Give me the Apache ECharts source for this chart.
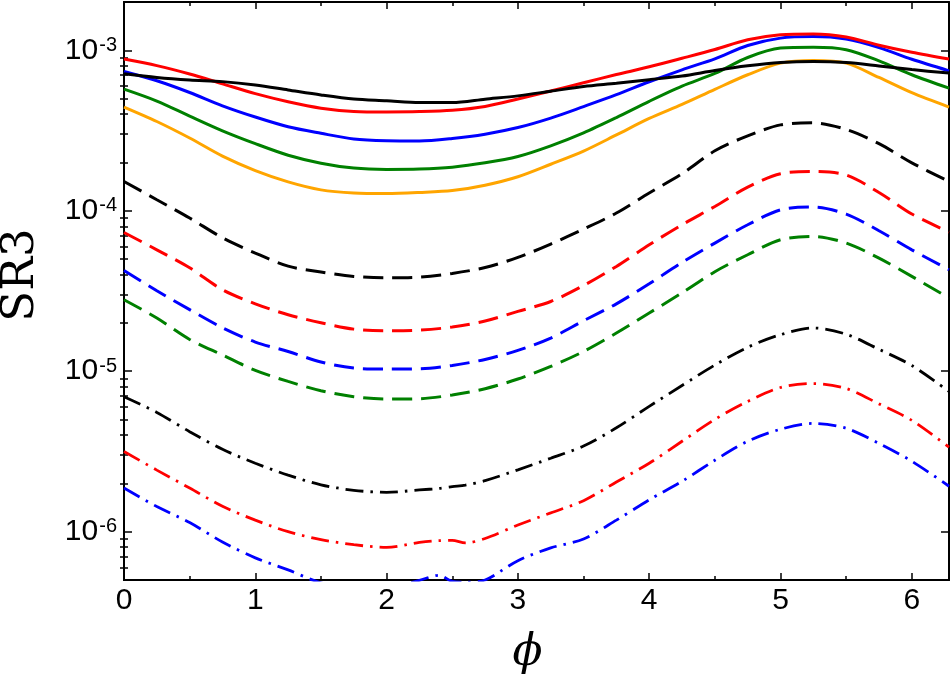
<!DOCTYPE html>
<html>
<head>
<meta charset="utf-8">
<script src="https://cdn.jsdelivr.net/npm/echarts@6/dist/echarts.min.js"></script>
<style>
  html, body { margin: 0; padding: 0; background: #fff; }
  #chart { width: 952px; height: 683px; }
</style>
</head>
<body>
<div id="chart"></div>
<script>
// phi samples for the solid and dashed curves
const phi = [0, 0.25, 0.5, 0.75, 1, 1.25, 1.5, 1.75, 2, 2.25, 2.5, 2.75, 3, 3.25, 3.5, 3.75,
  4, 4.25, 4.5, 4.75, 5, 5.25, 5.5, 5.75, 6, 6.2832];
// the dash-dot curves are noisier, so they get a few extra samples
const phiDashDot = [0, 0.25, 0.5, 0.75, 1, 1.25, 1.5, 1.75, 2, 2.25, 2.4, 2.5, 2.6, 2.75,
  3, 3.25, 3.5, 3.75, 4, 4.25, 4.5, 4.75, 5, 5.25, 5.5, 5.75, 6, 6.2832];

const solidBlack = [7.14e-4, 6.77e-4, 6.53e-4, 6.38e-4, 6.08e-4, 5.66e-4, 5.27e-4, 4.97e-4, 4.85e-4, 4.72e-4, 4.72e-4, 4.96e-4, 5.20e-4,
  5.56e-4, 5.95e-4, 6.23e-4, 6.56e-4, 6.91e-4, 7.48e-4, 8.00e-4, 8.39e-4, 8.52e-4, 8.39e-4, 7.99e-4, 7.58e-4, 7.21e-4];
const solidRed = [8.82e-4, 8.03e-4, 7.12e-4, 6.18e-4, 5.37e-4, 4.78e-4, 4.36e-4, 4.16e-4, 4.13e-4, 4.15e-4, 4.23e-4, 4.47e-4, 4.97e-4,
  5.58e-4, 6.28e-4, 7.06e-4, 7.89e-4, 8.92e-4, 1.012e-3, 1.163e-3, 1.249e-3, 1.265e-3, 1.212e-3, 1.076e-3, 9.72e-4, 8.82e-4];
const solidBlue = [7.38e-4, 6.46e-4, 5.46e-4, 4.51e-4, 3.84e-4, 3.34e-4, 3.04e-4, 2.80e-4, 2.73e-4, 2.72e-4, 2.82e-4, 3.00e-4, 3.30e-4,
  3.78e-4, 4.46e-4, 5.29e-4, 6.37e-4, 7.56e-4, 8.85e-4, 1.071e-3, 1.191e-3, 1.217e-3, 1.174e-3, 1.039e-3, 8.79e-4, 7.45e-4];
const solidGreen = [5.73e-4, 4.83e-4, 3.89e-4, 3.15e-4, 2.62e-4, 2.22e-4, 1.98e-4, 1.845e-4, 1.81e-4, 1.82e-4, 1.87e-4, 1.99e-4, 2.18e-4,
  2.54e-4, 3.06e-4, 3.81e-4, 4.81e-4, 5.98e-4, 7.17e-4, 9.02e-4, 1.032e-3, 1.045e-3, 1.009e-3, 8.60e-4, 7.04e-4, 5.81e-4];
const solidOrange = [4.43e-4, 3.60e-4, 2.84e-4, 2.19e-4, 1.78e-4, 1.514e-4, 1.35e-4, 1.29e-4, 1.28e-4, 1.30e-4, 1.336e-4, 1.444e-4, 1.63e-4,
  1.95e-4, 2.355e-4, 2.97e-4, 3.76e-4, 4.60e-4, 5.71e-4, 7.04e-4, 8.32e-4, 8.63e-4, 8.32e-4, 6.77e-4, 5.44e-4, 4.43e-4];

const dashedBlack = [1.523e-4, 1.171e-4, 9.01e-5, 6.79e-5, 5.45e-5, 4.52e-5, 4.15e-5, 3.90e-5, 3.82e-5, 3.86e-5, 4.07e-5, 4.43e-5, 5.12e-5,
  6.20e-5, 7.69e-5, 9.68e-5, 1.29e-4, 1.70e-4, 2.365e-4, 2.93e-4, 3.43e-4, 3.53e-4, 3.21e-4, 2.62e-4, 1.99e-4, 1.523e-4];
const dashedRed = [7.32e-5, 5.71e-5, 4.41e-5, 3.22e-5, 2.63e-5, 2.25e-5, 2.005e-5, 1.83e-5, 1.79e-5, 1.805e-5, 1.885e-5, 2.055e-5, 2.36e-5,
  2.72e-5, 3.42e-5, 4.50e-5, 6.14e-5, 8.18e-5, 1.064e-4, 1.405e-4, 1.70e-4, 1.757e-4, 1.669e-4, 1.30e-4, 9.54e-5, 7.37e-5];
const dashedBlue = [4.25e-5, 3.17e-5, 2.42e-5, 1.866e-5, 1.52e-5, 1.328e-5, 1.141e-5, 1.047e-5, 1.032e-5, 1.036e-5, 1.087e-5, 1.184e-5, 1.348e-5,
  1.61e-5, 2.063e-5, 2.63e-5, 3.51e-5, 4.76e-5, 6.29e-5, 8.18e-5, 1.014e-4, 1.055e-4, 9.54e-5, 7.51e-5, 5.71e-5, 4.29e-5];
const dashedGreen = [2.79e-5, 2.145e-5, 1.578e-5, 1.262e-5, 1.012e-5, 8.64e-6, 7.56e-6, 6.94e-6, 6.71e-6, 6.74e-6, 7.11e-6, 7.78e-6, 8.94e-6,
  1.071e-5, 1.328e-5, 1.73e-5, 2.305e-5, 3.08e-5, 4.17e-5, 5.32e-5, 6.60e-5, 6.92e-5, 6.29e-5, 5.07e-5, 3.90e-5, 2.86e-5];

const dashDotBlack = [6.93e-6, 5.54e-6, 4.20e-6, 3.26e-6, 2.67e-6, 2.25e-6, 1.96e-6, 1.81e-6, 1.76e-6, 1.82e-6, 1.86e-6, 1.91e-6, 1.95e-6, 2.08e-6,
  2.43e-6, 2.87e-6, 3.42e-6, 4.44e-6, 6.04e-6, 8.15e-6, 1.093e-5, 1.41e-5, 1.69e-5, 1.86e-5, 1.70e-5, 1.37e-5, 1.085e-5, 7.48e-6];
const dashDotRed = [3.16e-6, 2.42e-6, 1.87e-6, 1.44e-6, 1.18e-6, 1.00e-6, 8.92e-7, 8.30e-7, 7.98e-7, 8.57e-7, 8.80e-7, 8.82e-7, 8.51e-7, 9.07e-7,
  1.10e-6, 1.31e-6, 1.56e-6, 2.04e-6, 2.67e-6, 3.66e-6, 5.01e-6, 6.48e-6, 7.92e-6, 8.38e-6, 7.81e-6, 6.26e-6, 4.94e-6, 3.36e-6];
const dashDotBlue = [1.87e-6, 1.434e-6, 1.14e-6, 8.63e-7, 6.87e-7, 5.78e-7, 4.80e-7, 4.47e-7, 4.47e-7, 4.98e-7, 5.35e-7, 4.90e-7, 4.85e-7, 5.0e-7,
  6.6e-7, 7.92e-7, 9.01e-7, 1.18e-6, 1.58e-6, 2.06e-6, 2.79e-6, 3.66e-6, 4.35e-6, 4.73e-6, 4.41e-6, 3.55e-6, 2.75e-6, 1.92e-6];

// tick positions
const xMajorTicks = [0, 1, 2, 3, 4, 5, 6];
const xMinorTicks = [0.5, 1.5, 2.5, 3.5, 4.5, 5.5];
const yMajorTicks = [1e-6, 1e-5, 1e-4, 1e-3];
const yMinorTicks = [6e-7, 7e-7, 8e-7, 9e-7,
  2e-6, 3e-6, 4e-6, 5e-6, 6e-6, 7e-6, 8e-6, 9e-6,
  2e-5, 3e-5, 4e-5, 5e-5, 6e-5, 7e-5, 8e-5, 9e-5,
  2e-4, 3e-4, 4e-4, 5e-4, 6e-4, 7e-4, 8e-4, 9e-4];

const X_MAX = 2 * Math.PI;
const Y_MIN = 5e-7;
const Y_MAX = 2e-3;

const dashed = [20, 9];
const dashDot = [18, 7, 2.5, 7];

const chart = echarts.init(document.getElementById('chart'));

const frame = { show: true, onZero: false, lineStyle: { color: '#000', width: 2 } };
const noLine = { show: false };

function xAxisOf(position, ticks, len, withLabels) {
  return {
    type: 'value', min: 0, max: X_MAX, position,
    axisLine: withLabels !== null ? frame : noLine,
    axisTick: { show: true, inside: true, length: len, customValues: ticks, lineStyle: { color: '#000', width: 1.5 } },
    axisLabel: withLabels ? {
      customValues: xMajorTicks, fontSize: 30, color: '#000', fontFamily: 'Liberation Sans', margin: 6,
      alignMinLabel: 'center', alignMaxLabel: 'center', hideOverlap: false
    } : { show: false },
    splitLine: { show: false },
  };
}

function yAxisOf(position, ticks, len, withLabels) {
  return {
    type: 'log', logBase: 10, min: Y_MIN, max: Y_MAX, position,
    axisLine: withLabels !== null ? frame : noLine,
    axisTick: { show: true, inside: true, length: len, customValues: ticks, lineStyle: { color: '#000', width: 1.5 } },
    axisLabel: withLabels ? {
      customValues: yMajorTicks, margin: 7,
      formatter: (v) => '{b|10}{s|' + Math.round(Math.log10(v)) + '}',
      rich: {
        b: { fontSize: 30, fontFamily: 'Liberation Sans', color: '#000', lineHeight: 30, verticalAlign: 'bottom', padding: [9, 0, 0, 0] },
        s: { fontSize: 20, fontFamily: 'Liberation Sans', color: '#000', lineHeight: 20, verticalAlign: 'top', padding: [0, 0, 0, 1] },
      },
    } : { show: false },
    splitLine: { show: false },
    minorTick: { show: false },
  };
}

const xBottom = xAxisOf('bottom', xMajorTicks, 7, true);
xBottom.name = 'ϕ';
xBottom.nameLocation = 'middle';
xBottom.nameGap = 52;
xBottom.nameTextStyle = { fontFamily: 'DejaVu Serif', fontStyle: 'italic', fontSize: 44, color: '#000', padding: [0, 18, 0, 0] };

const yLeft = yAxisOf('left', yMajorTicks, 8, true);
yLeft.name = 'SR3';
yLeft.nameLocation = 'middle';
yLeft.nameGap = 80;
yLeft.nameRotate = 90;
yLeft.nameTextStyle = { fontFamily: 'DejaVu Serif', fontSize: 45, color: '#000', padding: [0, 0, 0, 32] };

function curve(xs, ys, color, type, width) {
  return {
    type: 'line',
    data: xs.map((x, i) => [x, ys[i]]),
    symbol: 'none',
    smooth: 0.3,
    clip: true,
    lineStyle: { color, width, type },
    itemStyle: { color },
  };
}

const option = {
  animation: false,
  backgroundColor: '#fff',
  grid: { left: 124, right: 3, top: 2, bottom: 103, containLabel: false, outerBoundsMode: 'none' },
  xAxis: [
    xBottom,
    xAxisOf('bottom', xMinorTicks, 4, false),
    xAxisOf('top', xMajorTicks, 7, false),
    xAxisOf('top', xMinorTicks, 4, null),
  ],
  yAxis: [
    yLeft,
    yAxisOf('left', yMinorTicks, 4, false),
    yAxisOf('right', yMajorTicks, 8, false),
    yAxisOf('right', yMinorTicks, 4, null),
  ],
  series: [
    curve(phiDashDot, dashDotBlue, '#0000ff', dashDot, 2.8),
    curve(phiDashDot, dashDotRed, '#ff0000', dashDot, 2.8),
    curve(phiDashDot, dashDotBlack, '#000000', dashDot, 2.8),
    curve(phi, dashedGreen, '#008000', dashed, 3),
    curve(phi, dashedBlue, '#0000ff', dashed, 3),
    curve(phi, dashedRed, '#ff0000', dashed, 3),
    curve(phi, dashedBlack, '#000000', dashed, 3),
    curve(phi, solidOrange, '#ffa500', 'solid', 3),
    curve(phi, solidGreen, '#008000', 'solid', 3),
    curve(phi, solidBlue, '#0000ff', 'solid', 3),
    curve(phi, solidRed, '#ff0000', 'solid', 3),
    curve(phi, solidBlack, '#000000', 'solid', 3),
  ],
};

chart.setOption(option);
</script>
</body>
</html>
